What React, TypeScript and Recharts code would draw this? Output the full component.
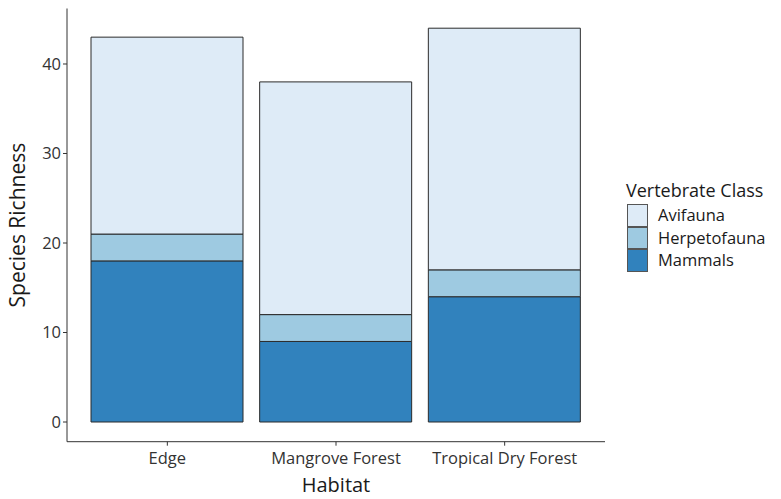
import { BarChart, Bar, XAxis, YAxis } from 'recharts';

const habitats = ['Edge', 'Mangrove Forest', 'Tropical Dry Forest'];
const mammals = [18, 9, 14];
const herpetofauna = [3, 3, 3];
const avifauna = [22, 26, 27];
const yTicks = [0, 10, 20, 30, 40];

const classes = [
  { key: 'Mammals', color: '#3182bd' },
  { key: 'Herpetofauna', color: '#9ecae1' },
  { key: 'Avifauna', color: '#deebf7' },
];

const data = habitats.map((h, i) => ({
  habitat: h,
  Mammals: mammals[i],
  Herpetofauna: herpetofauna[i],
  Avifauna: avifauna[i],
}));

const font = '"Open Sans", "DejaVu Sans", sans-serif';

function LegendBox() {
  const items = [...classes].reverse();
  return (
    <div style={{ position: 'absolute', left: 626, top: 176, fontFamily: font, color: '#1a1a1a', lineHeight: 1 }}>
      <div style={{ fontSize: 18, height: 28, display: 'flex', alignItems: 'center' }}>Vertebrate Class</div>
      {items.map(it => (
        <div key={it.key} style={{ display: 'flex', alignItems: 'center', height: 22.5 }}>
          <div style={{
            width: 21, height: 22.5, background: it.color, marginLeft: 1,
            border: '1px solid #555', boxSizing: 'border-box', marginRight: 10,
          }} />
          <span style={{ fontSize: 16.5 }}>{it.key}</span>
        </div>
      ))}
    </div>
  );
}

export default function App() {
  return (
    <div style={{ position: 'absolute', left: 0, top: 0, width: 781, height: 499, background: '#fff' }}>
      <BarChart
        width={781}
        height={499}
        data={data}
        margin={{ top: 8.5, right: 176, left: 0, bottom: 0 }}
      >
        <XAxis
          dataKey="habitat"
          interval={0}
          padding={{ left: 16, right: 16 }}
          height={57.3}
          axisLine={{ stroke: '#333', strokeWidth: 1 }}
          tickLine={{ stroke: '#333' }}
          tickSize={4}
          tickMargin={7}
          tick={{ fill: '#333', fontSize: 16.5, fontFamily: font }}
          label={{ value: 'Habitat', position: 'insideBottom', offset: 7, fill: '#1a1a1a', fontSize: 20, fontFamily: font }}
        />
        <YAxis
          type="number"
          domain={[-2.2, 46.2]}
          ticks={yTicks}
          width={67}
          allowDataOverflow
          axisLine={{ stroke: '#333', strokeWidth: 1 }}
          tickLine={{ stroke: '#333' }}
          tickSize={4}
          tick={{ fill: '#333', fontSize: 16.5, fontFamily: font }}
          label={{ value: 'Species Richness', angle: -90, position: 'insideLeft', offset: 18, fill: '#1a1a1a', fontSize: 21, fontFamily: font, style: { textAnchor: 'middle' } }}
        />
        {classes.map(c => (
          <Bar
            key={c.key}
            dataKey={c.key}
            stackId="a"
            fill={c.color}
            stroke="#2b2b2b"
            strokeWidth={1}
            barSize={152}
            isAnimationActive={false}
          />
        ))}
      </BarChart>
      <LegendBox />
    </div>
  );
}
